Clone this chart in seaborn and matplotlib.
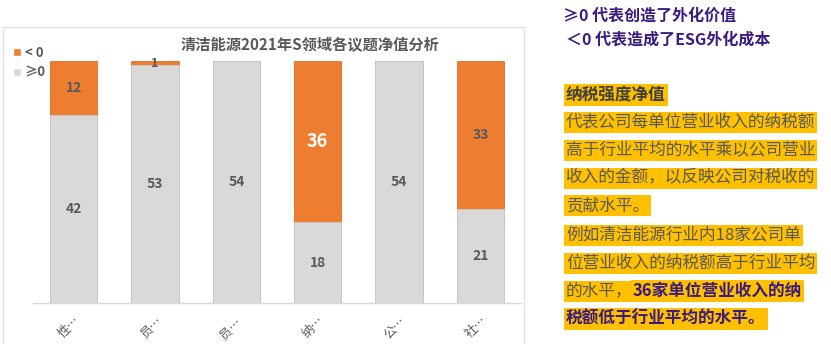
import matplotlib
matplotlib.use("Agg")
import matplotlib.pyplot as plt
import seaborn as sns
import pandas as pd
from matplotlib.patches import Patch, Rectangle

sns.set_theme(style="white")
plt.rcParams['font.family'] = ['Noto Sans CJK SC', 'DejaVu Sans']

categories = ["性…", "员…", "员… ", "纳…", "公…", "社…"]
neg_values = [12, 1, 0, 36, 0, 33]
pos_values = [42, 53, 54, 18, 54, 21]
title = "清洁能源2021年S领域各议题净值分析"

ORANGE = "#ED7D31"
GRAY = "#D9D9D9"
TXT = "#595959"
PURPLE = "#3B1C7E"

df = pd.DataFrame({"cat": categories, "neg": neg_values, "pos": pos_values})
df["total"] = df["neg"] + df["pos"]

fig = plt.figure(figsize=(8.31, 3.44), dpi=100)
W, H = 831, 344
ax = fig.add_axes([33 / W, 1 - 303 / H, (521 - 33) / W, (303 - 61) / H])

sns.barplot(data=df, x="cat", y="total", color=ORANGE, width=0.58, ax=ax,
            saturation=1, edgecolor="#E07020", linewidth=0.6)
sns.barplot(data=df, x="cat", y="pos", color=GRAY, width=0.58, ax=ax,
            saturation=1, edgecolor="#C8C8C8", linewidth=0.6)

ax.set_ylim(0, 54)
ax.set_xlim(-0.5, len(categories) - 0.5)
ax.set_xlabel("")
ax.set_ylabel("")
ax.set_yticks([])
for s in ["left", "right", "top"]:
    ax.spines[s].set_visible(False)
ax.spines["bottom"].set_color("#D9D9D9")
ax.spines["bottom"].set_linewidth(1.0)

ax.set_xticks(range(len(categories)))
ax.set_xticklabels(categories, rotation=45, ha="right", rotation_mode="anchor",
                   fontsize=9, color=TXT)
ax.tick_params(axis="x", which="major", length=0, pad=8)
ax.set_xticks([i - 0.5 for i in range(len(categories) + 1)], minor=True)
ax.tick_params(axis="x", which="minor", length=4, color="#D9D9D9", width=1)

for i, (n, p) in enumerate(zip(neg_values, pos_values)):
    ax.text(i, p / 2, str(p), ha="center", va="center", fontsize=10,
            fontweight="bold", color=TXT)
    if n > 0:
        if n >= 30 and p < 20:
            ax.text(i, p + n / 2, str(n), ha="center", va="center",
                    fontsize=13, fontweight="bold", color="white")
        elif n == 1:
            ax.text(i, p + n / 2, str(n), ha="center", va="center",
                    fontsize=9, fontweight="bold", color=TXT)
        else:
            ax.text(i, p + n / 2, str(n), ha="center", va="center",
                    fontsize=10, fontweight="bold", color=TXT)

# panel border
fig.patches.append(Rectangle((3 / W, -0.05), (524 - 3) / W, 1 - 27 / H + 0.05,
                             transform=fig.transFigure, fill=False,
                             edgecolor="#E3E3E3", linewidth=1.0, zorder=0))

fig.text(310 / W, 1 - 45 / H, title, ha="center", va="center", fontsize=11,
         fontweight="bold", color=TXT)

handles = [Patch(facecolor=ORANGE, label="< 0"), Patch(facecolor=GRAY, label="≥0")]
leg = fig.legend(handles=handles, loc="upper left", bbox_to_anchor=(1 / W, 1 - 34 / H),
                 frameon=False, handlelength=0.6, handleheight=0.6,
                 handletextpad=0.3, labelspacing=0.45, labelcolor=TXT,
                 prop={"weight": "bold", "size": 9.5})
leg.set_zorder(10)

# right-hand text
fig.text(563 / W, 1 - 16 / H, "≥0 代表创造了外化价值", ha="left", va="center",
         fontsize=11.5, fontweight="bold", color=PURPLE)
fig.text(566 / W, 1 - 40 / H, "＜0 代表造成了ESG外化成本", ha="left", va="center",
         fontsize=11.5, fontweight="bold", color=PURPLE)

HL = "#FFC000"
bb = dict(boxstyle="square,pad=0.12", facecolor=HL, edgecolor="none")
fig.text(566 / W, 1 - 95 / H, "纳税强度净值", ha="left", va="center",
         fontsize=12, fontweight="bold", color="#404040", bbox=bb)
lines = ["代表公司每单位营业收入的纳税额",
         "高于行业平均的水平乘以公司营业",
         "收入的金额，以反映公司对税收的",
         "贡献水平。",
         "例如清洁能源行业内18家公司单",
         "位营业收入的纳税额高于行业平均"]
ys = [122, 150, 178, 206, 235, 263]
for t, y in zip(lines, ys):
    fig.text(566 / W, 1 - y / H, t, ha="left", va="center", fontsize=12,
             color=TXT, bbox=bb)

t1 = fig.text(566 / W, 1 - 291 / H, "的水平，", ha="left", va="center",
              fontsize=12, color=TXT, bbox=bb)
fig.canvas.draw()
r = fig.canvas.get_renderer()
ext = t1.get_window_extent(r)
fig.text(ext.x1 / W, 1 - 291 / H, "36家单位营业收入的纳", ha="left", va="center",
         fontsize=12, fontweight="bold", color=PURPLE, bbox=bb)
fig.text(566 / W, 1 - 319 / H, "税额低于行业平均的水平。", ha="left", va="center",
         fontsize=12, fontweight="bold", color=PURPLE, bbox=bb)

fig.savefig("out.png", dpi=100)
